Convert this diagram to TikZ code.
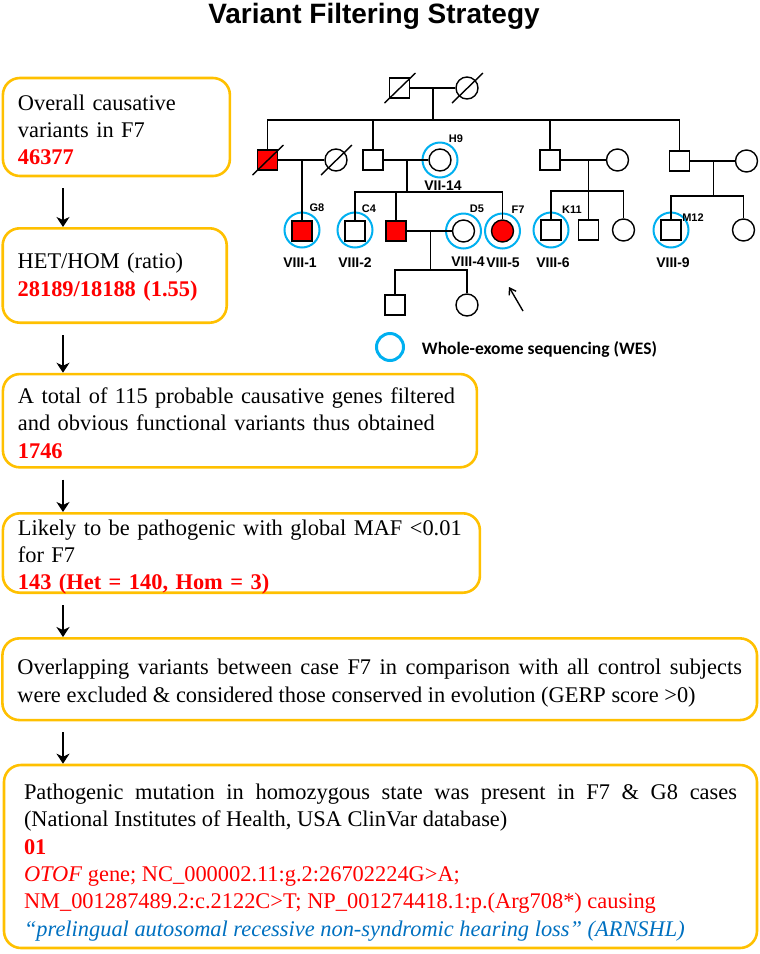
\documentclass[tikz,border=0pt]{standalone}
\usepackage{fontspec}
\setmainfont{Liberation Serif}
\newfontfamily\arialFont{Liberation Sans}
\newfontfamily\calibriFont{Carlito}
\usetikzlibrary{arrows.meta}
\definecolor{boxGold}{RGB}{255,192,0}
\definecolor{wesBlue}{RGB}{0,176,240}
\definecolor{noteBlue}{RGB}{0,112,192}
\definecolor{hitRed}{RGB}{255,0,0}
\tikzstyle{canvas} = [x=1pt, y=-1pt]
\tikzstyle{stepBox} = [draw=boxGold, line width=2.6pt, rounded corners=17pt, inner xsep=15pt, inner ysep=0pt, font=\fontsize{22.4}{27.3}\selectfont, execute at begin node=\setlength{\parindent}{0pt}]
\tikzstyle{textDown} = [execute at begin node={\rule{0pt}{\dimexpr 15.5pt+#1\relax}}, execute at end node={\endgraf\vspace*{-#1}}]
\tikzstyle{flowArrow} = [line width=2.4pt, -{Stealth[length=10pt, width=13pt, inset=3pt]}, shorten <=11pt]
\tikzstyle{pedLine} = [line width=1.4pt]
\tikzstyle{male} = [draw, rectangle, line width=1.4pt, minimum size=20pt, inner sep=0pt]
\tikzstyle{female} = [draw, circle, line width=1.4pt, minimum size=22pt, inner sep=0pt]
\tikzstyle{affected} = [fill=hitRed]
\tikzstyle{wesRing} = [draw=wesBlue, circle, line width=2pt, minimum size=35pt, inner sep=0pt]
\tikzstyle{sampleId} = [font=\arialFont\bfseries\fontsize{11}{11}\selectfont, inner sep=0pt]
\tikzstyle{personId} = [font=\arialFont\bfseries\fontsize{14}{14}\selectfont, inner sep=0pt]
\newcommand{\deceased}[1]{\draw [pedLine] ([shift={(-15,15)}]#1.center) -- ([shift={(16,-15)}]#1.center);}
\newcommand{\numRed}[1]{{\color{hitRed}\bfseries #1}}

\begin{document}
\begin{tikzpicture}[canvas]
  \useasboundingbox (0,0) rectangle (760,954);
  \node [font=\arialFont\bfseries\fontsize{28}{28}\selectfont, anchor=base] (title) at (374,23.3) {Variant Filtering Strategy};

  % filtering steps
  \node [stepBox, textDown=3pt, text width=197pt, minimum height=98pt, align=left] (box1) at (116.4,127) {Overall causative\\variants in F7\\\numRed{46377}};
  \node [stepBox, textDown=1.5pt, text width=194pt, minimum height=94.4pt, align=left] (box2) at (114.7,275.5) {HET/HOM (ratio)\\\numRed{28189/18188 (1.55)}};
  \node [stepBox, textDown=2.5pt, text width=444pt, minimum height=93.3pt, align=left] (box3) at (239.9,420.7) {A total of 115 probable causative genes filtered\\and obvious functional variants thus obtained\\\numRed{1746}};
  \node [stepBox, textDown=4pt, text width=447pt, minimum height=79.4pt, align=left] (box4) at (241.4,553) {Likely to be pathogenic with global MAF <0.01\\for F7\\\numRed{143 (Het = 140, Hom = 3)}};
  \node [stepBox, textDown=4pt, text width=724.6pt, minimum height=81.7pt, align=justify] (box5) at (379.7,679.2) {Overlapping variants between case F7 in comparison with all control subjects\linebreak were excluded \& considered those conserved in evolution (GERP score >0)};
  \node [stepBox, textDown=6pt, inner xsep=20pt, text width=713pt, minimum height=183pt, align=justify] (box6) at (380.5,856.5) {Pathogenic mutation in homozygous state was present in F7 \& G8 cases\linebreak (National Institutes of Health, USA ClinVar database)\par
    \numRed{01}\par
    {\color{hitRed}\textit{OTOF} gene; NC\_000002.11:g.2:26702224G>A;}\par
    {\color{hitRed}NM\_001287489.2:c.2122C>T; NP\_001274418.1:p.(Arg708*) causing}\par
    {\color{noteBlue}\itshape “prelingual autosomal recessive non-syndromic hearing loss” (ARNSHL)}};
  \coordinate (arrowCol) at (63,0);
  \foreach \a/\b in {box1/box2, box2/box3, box3/box4, box4/box5, box5/box6}
    \draw [flowArrow] (\a.south -| arrowCol) -- (\b.north -| arrowCol);

  % pedigree, generation VI
  \node [male] (gf) at (399.5,88) {};
  \node [female] (gm) at (467,88) {};
  \deceased{gf} \deceased{gm}
  \coordinate (gfm) at (433,88);
  \coordinate (sib7) at (433,120);
  \draw [pedLine] (gfm) -- (sib7);

  % generation VII
  \node [male, affected] (a7) at (267.5,160) {};
  \node [female] (a7w) at (336,160) {};
  \deceased{a7} \deceased{a7w}
  \node [male] (b7) at (373,160) {};
  \node [wesRing] (b7wRing) at (440,160) {};
  \node [female] (b7w) at (440,160) {};
  \node [male] (c7) at (550,160) {};
  \node [female] (c7w) at (617.5,160) {};
  \node [male] (d7) at (679.5,161) {};
  \node [female] (d7w) at (746.5,161) {};
  \foreach \m/\w in {gf/gm, a7/a7w, b7/b7w, c7/c7w, d7/d7w}
    \draw [pedLine] (\m) -- (\w);
  \draw [pedLine] (a7.north) |- (d7.north |- sib7) -- (d7.north);
  \draw [pedLine] (b7.north) -- (b7.north |- sib7);
  \draw [pedLine] (c7.north) -- (c7.north |- sib7);
  \node [sampleId] (h9Id) at (456,139) {H9};
  \node [personId] (vii14) at (443,186) {VII-14};

  % generation VIII
  \node [wesRing] (g8Ring) at (302,230) {};
  \node [male, affected] (g8) at (302,231) {};
  \node [wesRing] (c4Ring) at (355,230) {};
  \node [male] (c4) at (355,231) {};
  \node [male, affected] (e8) at (396,231) {};
  \node [wesRing] (d5Ring) at (463.5,231) {};
  \node [female] (d5) at (463.5,231) {};
  \node [wesRing] (f7Ring) at (502.5,231) {};
  \node [female, affected] (f7) at (502.5,231) {};
  \node [wesRing] (k11Ring) at (551,230) {};
  \node [male] (k11) at (551,230) {};
  \node [male] (k2) at (588.5,230) {};
  \node [female] (k3) at (623.5,230) {};
  \node [wesRing] (m12Ring) at (671,230) {};
  \node [male] (m12) at (671,230) {};
  \node [female] (m2) at (743.5,230) {};
  \coordinate (a7m) at (302,160);
  \draw [pedLine] (a7m) -- (g8.north);
  \coordinate (b7m) at (407,160);
  \coordinate (sib8b) at (407,192);
  \draw [pedLine] (b7m) -- (sib8b);
  \draw [pedLine] (c4.north) |- (f7.north |- sib8b) -- (f7.north);
  \draw [pedLine] (e8.north) -- (e8.north |- sib8b);
  \coordinate (c7m) at (588.5,160);
  \coordinate (sib8c) at (588.5,191);
  \draw [pedLine] (c7m) -- (k2.north);
  \draw [pedLine] (k11.north) |- (k3.north |- sib8c) -- (k3.north);
  \coordinate (d7m) at (713.5,161);
  \coordinate (sib8d) at (713.5,196);
  \draw [pedLine] (d7m) -- (sib8d);
  \draw [pedLine] (m12.north) |- (m2.north |- sib8d) -- (m2.north);
  \draw [pedLine] (e8) -- (d5);
  \node [sampleId] (g8Id) at (317,208) {G8};
  \node [sampleId] (c4Id) at (369,209) {C4};
  \node [sampleId] (d5Id) at (477,209) {D5};
  \node [sampleId] (f7Id) at (518,210) {F7};
  \node [sampleId] (k11Id) at (572,210) {K11};
  \node [sampleId] (m12Id) at (693,218) {M12};
  \node [personId] (viii1) at (300,263) {VIII-1};
  \node [personId] (viii2) at (355,263) {VIII-2};
  \node [personId] (viii4) at (468,262) {VIII-4};
  \node [personId] (viii5) at (503,263) {VIII-5};
  \node [personId] (viii6) at (553,263) {VIII-6};
  \node [personId] (viii9) at (673,263) {VIII-9};

  % generation IX
  \node [male] (n1) at (395,305) {};
  \node [female] (n2) at (467,305) {};
  \coordinate (e8m) at (430.5,231);
  \coordinate (sib9) at (430.5,270);
  \draw [pedLine] (e8m) -- (sib9);
  \draw [pedLine] (n1.north) |- (n2.north |- sib9) -- (n2.north);

  % proband arrow and legend
  \coordinate (probandTail) at (523,311);
  \coordinate (probandTip) at (509,287);
  \draw [line width=1.4pt, -{Straight Barb[length=6pt, width=8pt]}] (probandTail) -- (probandTip);
  \node [wesRing, minimum size=27pt, line width=3pt] (legendRing) at (390,347) {};
  \node [font=\calibriFont\bfseries\fontsize{17.5}{17.5}\selectfont, anchor=base west, inner sep=0pt] (legendText) at (421.7,354) {Whole-exome sequencing (WES)};
\end{tikzpicture}
\end{document}
